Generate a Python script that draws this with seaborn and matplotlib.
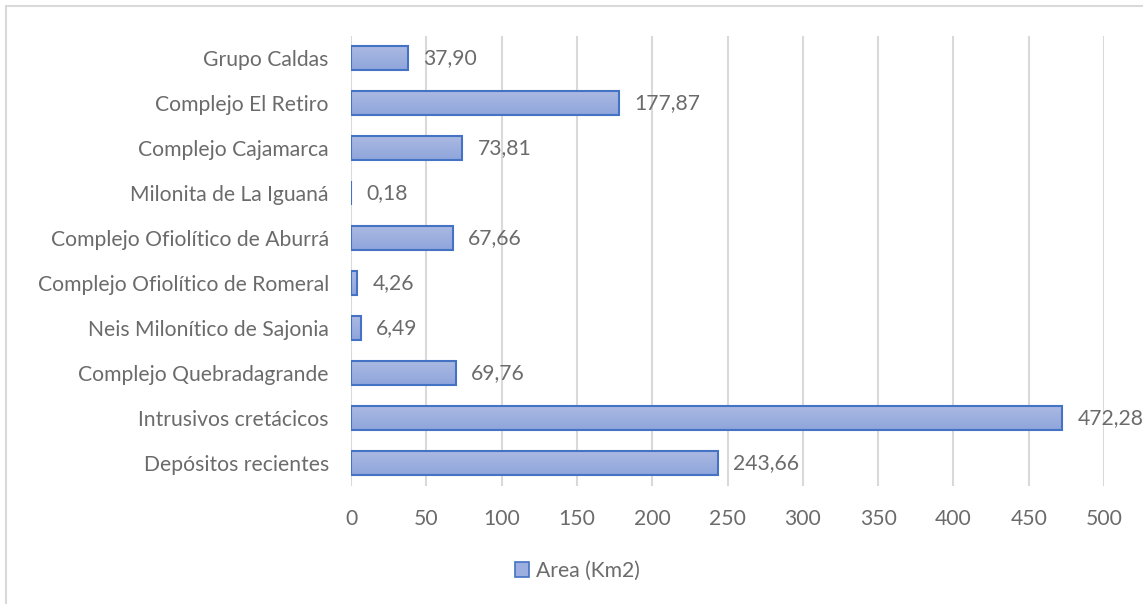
import matplotlib
matplotlib.use("Agg")
import matplotlib.pyplot as plt
import seaborn as sns
import numpy as np
import pandas as pd
from matplotlib.patches import Rectangle
from matplotlib.colors import LinearSegmentedColormap

categories = ["Grupo Caldas", "Complejo El Retiro", "Complejo Cajamarca", "Milonita de La Iguaná",
              "Complejo Ofiolítico de Aburrá", "Complejo Ofiolítico de Romeral",
              "Neis Milonítico de Sajonia", "Complejo Quebradagrande",
              "Intrusivos cretácicos", "Depósitos recientes"]
values = [37.90, 177.87, 73.81, 0.18, 67.66, 4.26, 6.49, 69.76, 472.28, 243.66]
series_name = "Area (Km2)"
xticks = [0, 50, 100, 150, 200, 250, 300, 350, 400, 450, 500]

df = pd.DataFrame({"cat": categories, "val": values})

sns.set_style("white")
plt.rcParams['font.family'] = ['Lato', 'DejaVu Sans']
gray = "#6b6b6b"
fs = 15.2

fig = plt.figure(figsize=(11.43, 6.04), dpi=100)
ax = fig.add_axes([351/1143, 1-485.5/604, (1104-351)/1143, (485.5-35.5)/604])

sns.barplot(data=df, y="cat", x="val", order=categories, ax=ax, orient="h",
            color="#9dafe0", edgecolor="#4472c4", linewidth=1.5, width=0.53, saturation=1)

cmap = LinearSegmentedColormap.from_list("g", ["#aab9e2", "#8fa5dc"])
grad = np.linspace(0, 1, 64).reshape(-1, 1)
for p in ax.patches:
    x0, y0 = p.get_x(), p.get_y()
    w, h = p.get_width(), p.get_height()
    im = ax.imshow(grad, cmap=cmap, aspect="auto", extent=[x0, x0 + w, y0 + h, y0],
                   origin="upper", zorder=p.get_zorder() - 0.01)
    im.set_clip_path(p)
    p.set_facecolor("none")
    p.set_zorder(3)

ax.set_xlim(0, 500)
ax.set_ylim(len(categories) - 0.5, -0.5)
ax.set_xticks(xticks)
ax.set_xticklabels([str(t) for t in xticks], fontsize=fs, color=gray)
ax.set_yticklabels(categories, fontsize=fs, color=gray)
ax.tick_params(axis="y", length=0, pad=16)
ax.tick_params(axis="x", length=0, pad=17)
ax.grid(axis="x", color="#d9d9d9", linewidth=1.5)
ax.set_axisbelow(True)
for s in ax.spines.values():
    s.set_visible(False)
ax.set_xlabel("")
ax.set_ylabel("")

for i, v in enumerate(values):
    ax.annotate(f"{v:.2f}".replace(".", ","), xy=(v, i), xytext=(11, 0), textcoords="offset points",
                va="center", ha="left", fontsize=fs, color=gray)

# legend
handle = Rectangle((0, 0), 1, 1, facecolor="#9dafe0", edgecolor="#4472c4", linewidth=1.2)
fig.legend([handle], [series_name], loc="center", bbox_to_anchor=(577/1143, 1-571/604),
           frameon=False, fontsize=fs, labelcolor=gray, handlelength=0.7, handleheight=0.7,
           handletextpad=0.3)

# outer border
fig.patches.append(Rectangle((6/1143, -0.05), 1.2, 1 - 6/604 + 0.05, transform=fig.transFigure,
                             fill=False, edgecolor="#d9d9d9", linewidth=1.5))

fig.savefig("out.png", dpi=100)
